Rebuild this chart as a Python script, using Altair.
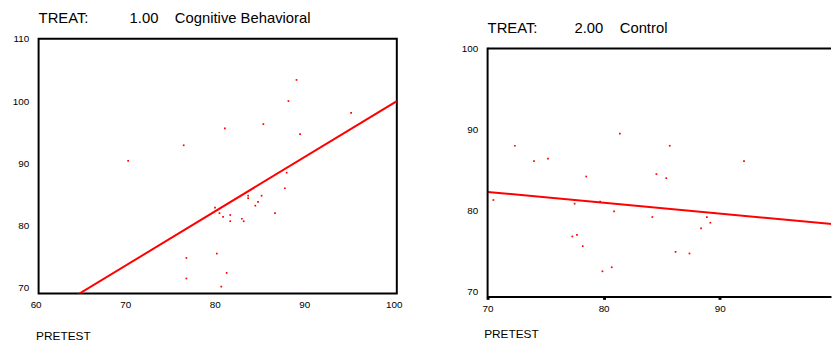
import altair as alt
import pandas as pd

FONT = "Liberation Sans"
NB = "\u00a0"

# Panel 1: TREAT 1.00 Cognitive Behavioral
cb_pretest = [88.8, 87.9, 94.9, 85.1, 80.8, 89.2, 76.2, 70.0, 87.7, 87.5,
              83.4, 83.4, 84.9, 84.5, 84.2, 79.7, 80.2, 86.4, 80.6, 81.4,
              81.4, 82.7, 82.9, 79.9, 76.5, 81.0, 76.5, 80.4]
cb_posttest = [103.4, 100.0, 98.1, 96.3, 95.6, 94.7, 92.9, 90.4, 88.5, 86.0,
               84.8, 84.4, 84.8, 83.8, 83.2, 82.9, 82.0, 82.0, 81.4, 81.7,
               80.7, 81.1, 80.7, 75.5, 74.8, 72.4, 71.5, 70.2]
cb_fit_x = [60, 100]
cb_fit_y = [65.1, 100.0]

# Panel 2: TREAT 2.00 Control
ct_pretest = [70.5, 72.35, 74.0, 75.2, 78.5, 81.4, 85.7, 92.1, 84.55, 85.4,
              77.5, 79.7, 80.9, 84.2, 88.9, 89.5, 89.2, 88.4, 77.3, 77.7,
              78.2, 86.2, 87.4, 79.9, 80.7]
ct_posttest = [81.3, 88.0, 86.1, 86.4, 84.2, 89.5, 88.0, 86.1, 84.5, 84.0,
               80.85, 81.1, 79.9, 79.2, 79.2, 79.7, 78.5, 77.8, 76.8, 77.0,
               75.6, 74.9, 74.7, 72.5, 73.0]
ct_fit_x = [70, 100]
ct_fit_y = [82.3, 78.3]

cb_x_ticks = [60, 70, 80, 90, 100]
cb_y_ticks = [70, 80, 90, 100, 110]
ct_x_ticks = [70, 80, 90]
ct_y_ticks = [70, 80, 90, 100]

# axis ranges (the right panel is cut at the page edge, as in the reference)
cb_x_range = [60, 100]
cb_y_range = [69.1, 110]
ct_x_range = [70, 99.6]
ct_y_range = [69.4, 101.2]
ct_frame_top = 100

title1 = "TREAT:" + NB * 10 + "1.00" + NB * 4 + "Cognitive Behavioral"
title2 = "TREAT:" + NB * 9 + "2.00" + NB * 4 + "Control"

cb_pts = pd.DataFrame({"PRETEST": cb_pretest, "POSTTEST": cb_posttest})
cb_fit = pd.DataFrame({"PRETEST": cb_fit_x, "POSTTEST": cb_fit_y})
ct_pts = pd.DataFrame({"PRETEST": ct_pretest, "POSTTEST": ct_posttest})
ct_fit = pd.DataFrame({"PRETEST": ct_fit_x, "POSTTEST": ct_fit_y})
one_row = pd.DataFrame({"k": [0]})

RED = "#ff0000"

# ---------- left panel ----------
lxs = alt.Scale(domain=cb_x_range, nice=False, zero=False)
lys = alt.Scale(domain=cb_y_range, nice=False, zero=False)
lx = alt.X("PRETEST:Q", scale=lxs,
           axis=alt.Axis(values=cb_x_ticks, grid=False, ticks=False, domain=False,
                         labelFontSize=10, labelPadding=6, labelOffset=-3,
                         labelFlush=False, labelOverlap=False,
                         title="PRETEST", titleFontSize=12, titleFontWeight="normal",
                         titleAnchor="start", titleAlign="left", titleX=-3,
                         titleY=47, titleBaseline="alphabetic"))
ly = alt.Y("POSTTEST:Q", scale=lys,
           axis=alt.Axis(values=cb_y_ticks, grid=False, ticks=False, domain=False,
                         labelFontSize=10, labelPadding=10, labelFlush=False,
                         labelOverlap=False, title=None))

left_pts = alt.Chart(cb_pts).mark_square(size=3, color=RED, opacity=1).encode(x=lx, y=ly)
left_fit = alt.Chart(cb_fit).mark_line(color=RED, strokeWidth=2, clip=True).encode(x=lx, y=ly)
left = alt.layer(left_pts, left_fit).properties(
    width=363, height=258,
    title=alt.TitleParams(text=title1, anchor="start", frame="group", fontSize=15,
                          fontWeight="normal", color="black", baseline="alphabetic",
                          offset=-4),
    view=alt.ViewBackground(stroke="black", strokeWidth=2, strokeOpacity=1),
)

# ---------- right panel ----------
rxs = alt.Scale(domain=ct_x_range, nice=False, zero=False)
rys = alt.Scale(domain=ct_y_range, nice=False, zero=False)
rx = alt.X("PRETEST:Q", scale=rxs,
           axis=alt.Axis(values=ct_x_ticks, grid=False, ticks=True, tickSize=3,
                         tickWidth=3, tickColor="black", domain=True,
                         domainColor="black", domainWidth=2,
                         labelFontSize=10, labelPadding=4, labelFlush=False,
                         labelOverlap=False,
                         title="PRETEST", titleFontSize=12, titleFontWeight="normal",
                         titleAnchor="start", titleAlign="left", titleX=-4,
                         titleY=42, titleBaseline="alphabetic"))
ry = alt.Y("POSTTEST:Q", scale=rys,
           axis=alt.Axis(values=ct_y_ticks, grid=False, ticks=False, domain=False,
                         labelFontSize=10, labelPadding=10, labelFlush=False,
                         labelOverlap=False, title=None))

right_pts = alt.Chart(ct_pts).mark_square(size=3, color=RED, opacity=1).encode(x=rx, y=ry)
right_fit = alt.Chart(ct_fit).mark_line(color=RED, strokeWidth=2, clip=True).encode(x=rx, y=ry)
frame_top = alt.Chart(one_row).mark_rule(color="black", strokeWidth=2).encode(
    x=alt.datum(ct_x_range[0]), x2=alt.datum(ct_x_range[1]), y=alt.datum(ct_frame_top))
frame_left = alt.Chart(one_row).mark_rule(color="black", strokeWidth=2, strokeCap="square").encode(
    x=alt.datum(ct_x_range[0]), y=alt.datum(ct_y_range[0]), y2=alt.datum(ct_frame_top))

right = alt.layer(right_pts, right_fit, frame_top, frame_left).properties(
    width=348, height=261,
    title=alt.TitleParams(text=title2, anchor="start", frame="group", fontSize=15,
                          fontWeight="normal", color="black", baseline="alphabetic",
                          offset=-9),
    view=alt.ViewBackground(strokeOpacity=0),
)

chart = alt.hconcat(left, right, spacing=58).properties(
    padding={"left": 3, "top": 0, "right": 0, "bottom": 0},
    background="white",
).configure_axis(
    labelFont=FONT, titleFont=FONT, labelColor="black", titleColor="black"
).configure_title(font=FONT).configure_view(strokeOpacity=0)

chart.save("out.html", embed_options={"renderer": "svg", "actions": False})
